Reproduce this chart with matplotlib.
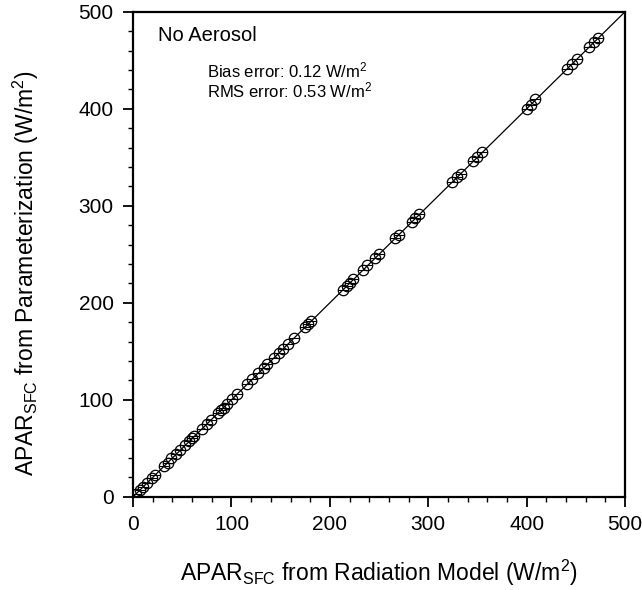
import matplotlib.pyplot as plt
import numpy as np

plt.rcParams['font.family'] = ['Liberation Sans', 'DejaVu Sans']
plt.rcParams['mathtext.fontset'] = 'custom'
plt.rcParams['mathtext.rm'] = 'Liberation Sans'
plt.rcParams['mathtext.it'] = 'Liberation Sans'

# APAR from radiation model vs. parameterization (W/m2)
apar_model = [3, 7, 10, 14, 19, 22, 31, 35, 39, 44, 48, 53, 57, 60, 62,
              70, 75, 79, 86, 89, 92, 95, 101, 106, 116, 121, 127, 133, 136,
              143, 148, 152, 157, 164, 175, 178, 181, 213, 217, 220, 224,
              234, 238, 246, 250, 266, 270, 283, 287, 291, 324, 329, 333,
              346, 350, 355, 400, 404, 409, 441, 446, 451, 463, 469, 473]
apar_param = [3.2, 7.5, 10.1, 14.6, 19.0, 22.4, 31.3, 35.1, 39.6, 44.2, 48.5, 53.0, 57.4, 60.2, 62.6,
              70.1, 75.5, 79.3, 86.2, 89.6, 92.0, 95.4, 101.3, 106.1, 116.5, 121.2, 127.4, 133.1, 136.6,
              143.0, 148.4, 152.2, 157.5, 164.1, 175.3, 178.6, 181.0, 213.2, 217.7, 220.1, 224.5,
              234.2, 238.6, 246.1, 250.4, 266.3, 270.0, 283.5, 287.1, 291.6, 324.2, 329.4, 333.0,
              346.6, 350.1, 355.5, 400.3, 404.0, 409.6, 441.2, 446.5, 451.0, 463.4, 469.1, 473.5]

fig = plt.figure(figsize=(6.43, 5.90), dpi=100)
ax = fig.add_axes([0.207, 0.158, 0.765, 0.822])

# 1:1 linje
ax.plot([0, 500], [0, 500], color='black', lw=0.9)
ax.plot(apar_model, apar_param, 'o', mfc='none', mec='black', ms=7.5, mew=0.9)
ax.plot(apar_model, apar_param, '_', color='black', ms=7.5, mew=0.8)

ax.set_xlim(0, 500)
ax.set_ylim(0, 500)
ax.set_xticks(np.arange(0, 501, 100))
ax.set_yticks(np.arange(0, 501, 100))
ax.set_xticks(np.arange(0, 501, 20), minor=True)
ax.set_yticks(np.arange(0, 501, 20), minor=True)
ax.tick_params(which='major', direction='out', length=7, width=1.3, labelsize=15)
ax.tick_params(which='minor', direction='out', length=3.5, width=1.0)
ax.tick_params(axis='x', which='major', pad=6)
ax.tick_params(axis='y', which='major', pad=7)
for s in ax.spines.values():
    s.set_linewidth(1.6)

ax.set_xlabel(r'APAR$_{\mathrm{SFC}}$ from Radiation Model (W/m$^2$)', fontsize=16.5)
ax.set_ylabel(r'APAR$_{\mathrm{SFC}}$ from Parameterization (W/m$^2$)', fontsize=16.5)
ax.xaxis.set_label_coords(0.5, -0.126)
ax.yaxis.set_label_coords(-0.187, 0.46)

ax.text(25, 470, 'No Aerosol', fontsize=14.5, va='baseline')
ax.text(75, 432, r'Bias error: 0.12 W/m$^2$', fontsize=12, va='baseline')
ax.text(75, 412, r'RMS error: 0.53 W/m$^2$', fontsize=12, va='baseline')

fig.savefig('out.png', dpi=100)
